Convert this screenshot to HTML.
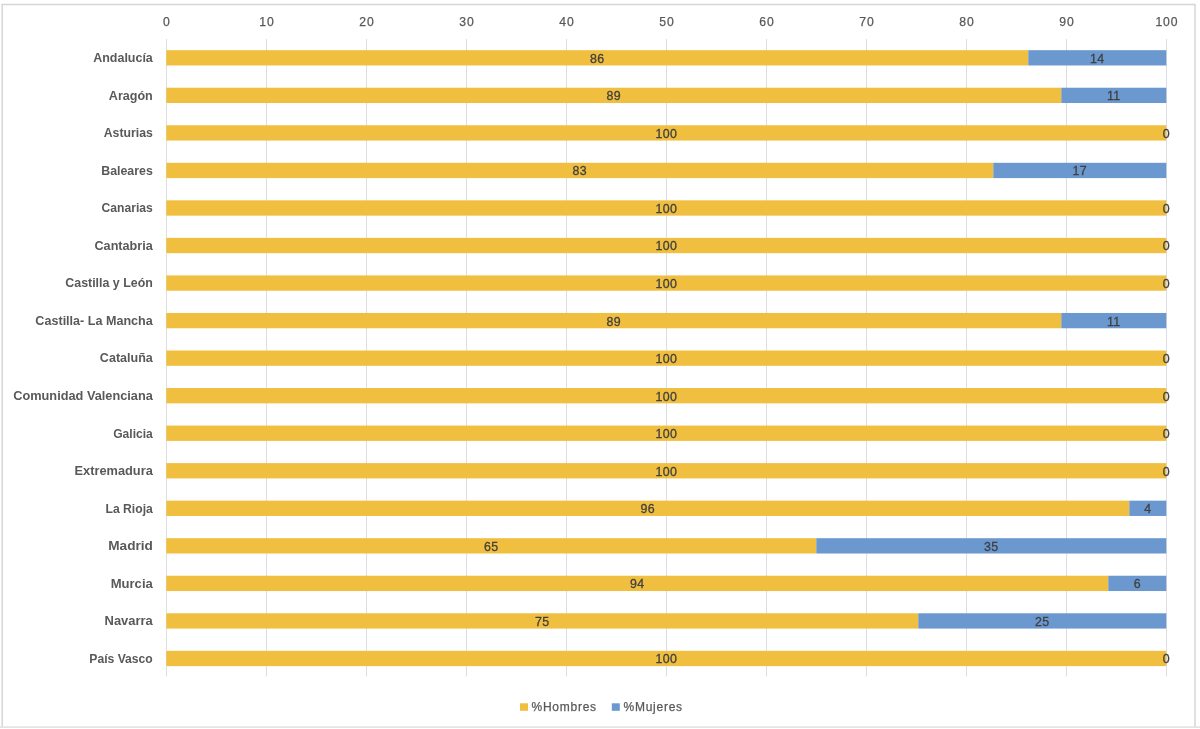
<!DOCTYPE html>
<html><head><meta charset="utf-8"><style>
html,body{margin:0;padding:0;background:#fff;width:1200px;height:729px;overflow:hidden}
svg{display:block}
text{will-change:transform}

text{font-family:"Liberation Sans",sans-serif}
.ax{font-size:12.2px;letter-spacing:0.8px;fill:#595959;stroke:#595959;stroke-width:0.25px;text-anchor:middle}
.dl{font-size:12.4px;letter-spacing:0.3px;fill:#404040;stroke:#404040;stroke-width:0.3px;text-anchor:middle}
.cat{font-size:12.8px;font-weight:bold;fill:#595959;text-anchor:end}
.lg{font-size:12px;letter-spacing:0.75px;fill:#595959;stroke:#595959;stroke-width:0.25px}
</style></head><body>
<div id="w"><svg width="1200" height="729" viewBox="0 0 1200 729">
<rect width="1200" height="729" fill="#fff"/>
<path d="M2.2 727 V4.4 H1195 V727" fill="none" stroke="#D6D6D6" stroke-width="1.5"/>
<line x1="0" y1="727.1" x2="1200" y2="727.1" stroke="#E4E4E4" stroke-width="1.6"/>
<line x1="166.5" y1="39.06" x2="166.5" y2="676.5" stroke="#DEDEE0" stroke-width="1"/>
<text x="166.9" y="25.5" class="ax">0</text>
<line x1="266.5" y1="39.06" x2="266.5" y2="676.5" stroke="#DEDEE0" stroke-width="1"/>
<text x="266.9" y="25.5" class="ax">10</text>
<line x1="366.5" y1="39.06" x2="366.5" y2="676.5" stroke="#DEDEE0" stroke-width="1"/>
<text x="366.9" y="25.5" class="ax">20</text>
<line x1="466.5" y1="39.06" x2="466.5" y2="676.5" stroke="#DEDEE0" stroke-width="1"/>
<text x="466.9" y="25.5" class="ax">30</text>
<line x1="566.5" y1="39.06" x2="566.5" y2="676.5" stroke="#DEDEE0" stroke-width="1"/>
<text x="566.9" y="25.5" class="ax">40</text>
<line x1="666.5" y1="39.06" x2="666.5" y2="676.5" stroke="#DEDEE0" stroke-width="1"/>
<text x="666.9" y="25.5" class="ax">50</text>
<line x1="766.5" y1="39.06" x2="766.5" y2="676.5" stroke="#DEDEE0" stroke-width="1"/>
<text x="766.9" y="25.5" class="ax">60</text>
<line x1="866.5" y1="39.06" x2="866.5" y2="676.5" stroke="#DEDEE0" stroke-width="1"/>
<text x="866.9" y="25.5" class="ax">70</text>
<line x1="966.5" y1="39.06" x2="966.5" y2="676.5" stroke="#DEDEE0" stroke-width="1"/>
<text x="966.9" y="25.5" class="ax">80</text>
<line x1="1066.5" y1="39.06" x2="1066.5" y2="676.5" stroke="#DEDEE0" stroke-width="1"/>
<text x="1066.9" y="25.5" class="ax">90</text>
<line x1="1166.5" y1="39.06" x2="1166.5" y2="676.5" stroke="#DEDEE0" stroke-width="1"/>
<text x="1166.9" y="25.5" class="ax">100</text>
<rect x="166.3" y="50.18" width="862.00" height="15.3" fill="#F1BF3F"/>
<rect x="1028.30" y="50.18" width="138.00" height="15.3" fill="#6A98CF"/>
<text x="597.30" y="62.73" class="dl">86</text>
<text x="1097.30" y="62.73" class="dl">14</text>
<text transform="translate(152.8 0) scale(0.975 1)" x="0" y="62.13" class="cat">Andalucía</text>
<rect x="166.3" y="87.72" width="895.00" height="15.3" fill="#F1BF3F"/>
<rect x="1061.30" y="87.72" width="105.00" height="15.3" fill="#6A98CF"/>
<text x="613.80" y="100.27" class="dl">89</text>
<text x="1113.80" y="100.27" class="dl">11</text>
<text transform="translate(152.8 0) scale(0.982 1)" x="0" y="99.67" class="cat">Aragón</text>
<rect x="166.3" y="125.26" width="1000.00" height="15.3" fill="#F1BF3F"/>
<text x="666.30" y="137.81" class="dl">100</text>
<text x="1166.30" y="137.81" class="dl">0</text>
<text transform="translate(152.8 0) scale(0.959 1)" x="0" y="137.21" class="cat">Asturias</text>
<rect x="166.3" y="162.80" width="827.00" height="15.3" fill="#F1BF3F"/>
<rect x="993.30" y="162.80" width="173.00" height="15.3" fill="#6A98CF"/>
<text x="579.80" y="175.35" class="dl">83</text>
<text x="1079.80" y="175.35" class="dl">17</text>
<text transform="translate(152.8 0) scale(0.966 1)" x="0" y="174.75" class="cat">Baleares</text>
<rect x="166.3" y="200.34" width="1000.00" height="15.3" fill="#F1BF3F"/>
<text x="666.30" y="212.89" class="dl">100</text>
<text x="1166.30" y="212.89" class="dl">0</text>
<text transform="translate(152.8 0) scale(0.948 1)" x="0" y="212.29" class="cat">Canarias</text>
<rect x="166.3" y="237.88" width="1000.00" height="15.3" fill="#F1BF3F"/>
<text x="666.30" y="250.43" class="dl">100</text>
<text x="1166.30" y="250.43" class="dl">0</text>
<text transform="translate(152.8 0) scale(0.988 1)" x="0" y="249.83" class="cat">Cantabria</text>
<rect x="166.3" y="275.42" width="1000.00" height="15.3" fill="#F1BF3F"/>
<text x="666.30" y="287.97" class="dl">100</text>
<text x="1166.30" y="287.97" class="dl">0</text>
<text transform="translate(152.8 0) scale(0.97 1)" x="0" y="287.37" class="cat">Castilla y León</text>
<rect x="166.3" y="312.96" width="895.00" height="15.3" fill="#F1BF3F"/>
<rect x="1061.30" y="312.96" width="105.00" height="15.3" fill="#6A98CF"/>
<text x="613.80" y="325.51" class="dl">89</text>
<text x="1113.80" y="325.51" class="dl">11</text>
<text transform="translate(152.8 0) scale(0.983 1)" x="0" y="324.91" class="cat">Castilla- La Mancha</text>
<rect x="166.3" y="350.50" width="1000.00" height="15.3" fill="#F1BF3F"/>
<text x="666.30" y="363.05" class="dl">100</text>
<text x="1166.30" y="363.05" class="dl">0</text>
<text transform="translate(152.8 0) scale(0.981 1)" x="0" y="362.45" class="cat">Cataluña</text>
<rect x="166.3" y="388.04" width="1000.00" height="15.3" fill="#F1BF3F"/>
<text x="666.30" y="400.59" class="dl">100</text>
<text x="1166.30" y="400.59" class="dl">0</text>
<text transform="translate(152.8 0) scale(0.997 1)" x="0" y="399.99" class="cat">Comunidad Valenciana</text>
<rect x="166.3" y="425.58" width="1000.00" height="15.3" fill="#F1BF3F"/>
<text x="666.30" y="438.13" class="dl">100</text>
<text x="1166.30" y="438.13" class="dl">0</text>
<text transform="translate(152.8 0) scale(0.945 1)" x="0" y="437.53" class="cat">Galicia</text>
<rect x="166.3" y="463.12" width="1000.00" height="15.3" fill="#F1BF3F"/>
<text x="666.30" y="475.67" class="dl">100</text>
<text x="1166.30" y="475.67" class="dl">0</text>
<text transform="translate(152.8 0) scale(1.0 1)" x="0" y="475.07" class="cat">Extremadura</text>
<rect x="166.3" y="500.66" width="963.00" height="15.3" fill="#F1BF3F"/>
<rect x="1129.30" y="500.66" width="37.00" height="15.3" fill="#6A98CF"/>
<text x="647.80" y="513.21" class="dl">96</text>
<text x="1147.80" y="513.21" class="dl">4</text>
<text transform="translate(152.8 0) scale(0.951 1)" x="0" y="512.61" class="cat">La Rioja</text>
<rect x="166.3" y="538.20" width="650.00" height="15.3" fill="#F1BF3F"/>
<rect x="816.30" y="538.20" width="350.00" height="15.3" fill="#6A98CF"/>
<text x="491.30" y="550.75" class="dl">65</text>
<text x="991.30" y="550.75" class="dl">35</text>
<text transform="translate(152.8 0) scale(1.063 1)" x="0" y="550.15" class="cat">Madrid</text>
<rect x="166.3" y="575.74" width="942.00" height="15.3" fill="#F1BF3F"/>
<rect x="1108.30" y="575.74" width="58.00" height="15.3" fill="#6A98CF"/>
<text x="637.30" y="588.29" class="dl">94</text>
<text x="1137.30" y="588.29" class="dl">6</text>
<text transform="translate(152.8 0) scale(1.022 1)" x="0" y="587.69" class="cat">Murcia</text>
<rect x="166.3" y="613.28" width="752.00" height="15.3" fill="#F1BF3F"/>
<rect x="918.30" y="613.28" width="248.00" height="15.3" fill="#6A98CF"/>
<text x="542.30" y="625.83" class="dl">75</text>
<text x="1042.30" y="625.83" class="dl">25</text>
<text transform="translate(152.8 0) scale(1.013 1)" x="0" y="625.23" class="cat">Navarra</text>
<rect x="166.3" y="650.82" width="1000.00" height="15.3" fill="#F1BF3F"/>
<text x="666.30" y="663.37" class="dl">100</text>
<text x="1166.30" y="663.37" class="dl">0</text>
<text transform="translate(152.8 0) scale(0.95 1)" x="0" y="662.77" class="cat">País Vasco</text>
<rect x="520" y="703.3" width="8" height="7.5" fill="#F1BF3F"/>
<text x="531.5" y="710.7" class="lg">%Hombres</text>
<rect x="611.8" y="703.3" width="8" height="7.5" fill="#6A98CF"/>
<text x="623.5" y="710.7" class="lg">%Mujeres</text>
</svg></div>
</body></html>
